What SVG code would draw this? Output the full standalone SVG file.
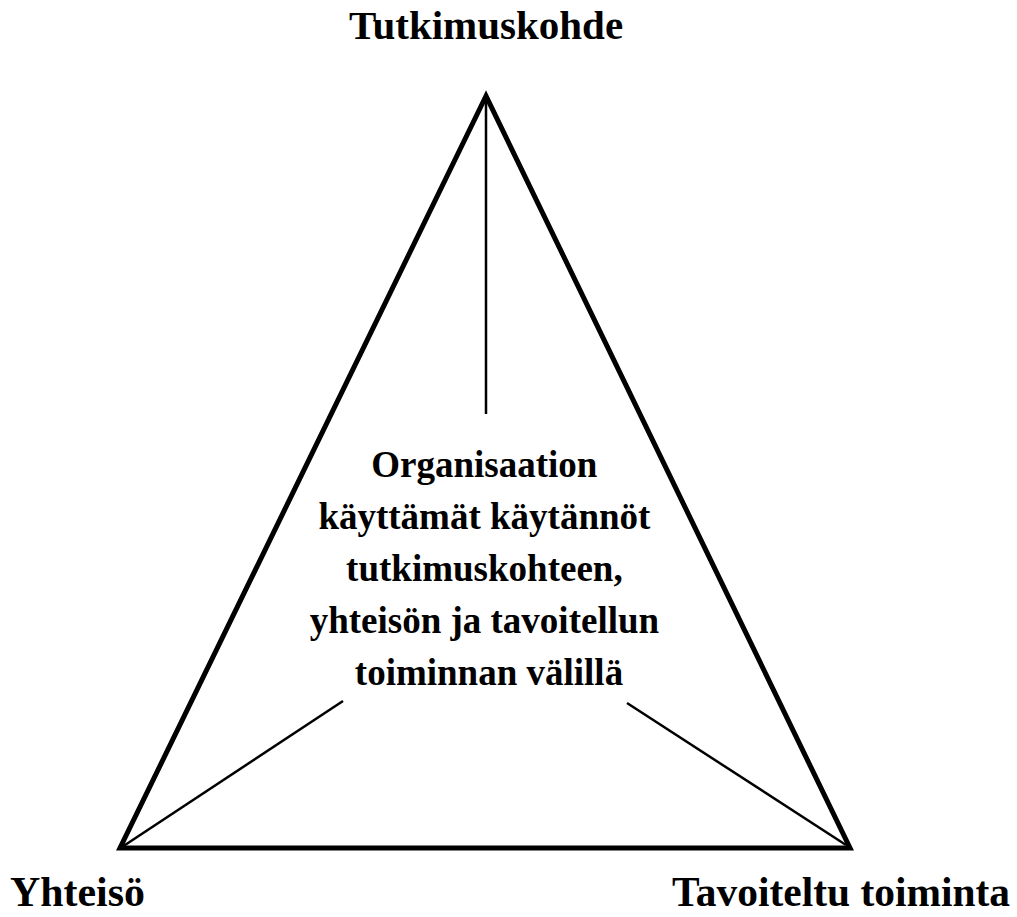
<svg xmlns="http://www.w3.org/2000/svg" width="1017" height="917" viewBox="0 0 1017 917">
<style>
.lbl{font-family:"Liberation Serif","Times New Roman",serif;font-weight:bold;fill:#000}
.tri{fill:none;stroke:#000;stroke-width:5;stroke-linejoin:miter;stroke-miterlimit:10}
.ln{stroke:#000;stroke-width:2.5;fill:none}
</style>
<rect width="1017" height="917" fill="#fff"/>
<g id="triangle">
<polygon class="tri" points="486,96 120,848 850,848"/>
</g>
<g id="connectors">
<line class="ln" x1="486" y1="98" x2="486" y2="414"/>
<line class="ln" x1="122" y1="847" x2="343" y2="701"/>
<line class="ln" x1="846" y1="845" x2="627" y2="703"/>
</g>
<g id="node-top">
<text class="lbl" x="486" y="39" font-size="41" text-anchor="middle">Tutkimuskohde</text>
</g>
<g id="node-left">
<text class="lbl" x="10" y="906" font-size="42" textLength="135" lengthAdjust="spacingAndGlyphs">Yhteisö</text>
</g>
<g id="node-right">
<text class="lbl" x="672" y="906" font-size="42" textLength="338" lengthAdjust="spacingAndGlyphs">Tavoiteltu toiminta</text>
</g>
<g id="node-center">
<text class="lbl" x="489" font-size="37" text-anchor="middle">
<tspan x="489" y="477">Organisaation</tspan>
<tspan x="489" y="529">käyttämät käytännöt</tspan>
<tspan x="489" y="581">tutkimuskohteen,</tspan>
<tspan x="489" y="633">yhteisön ja tavoitellun</tspan>
<tspan x="489" y="685">toiminnan välillä</tspan>
</text>
</g>
</svg>
